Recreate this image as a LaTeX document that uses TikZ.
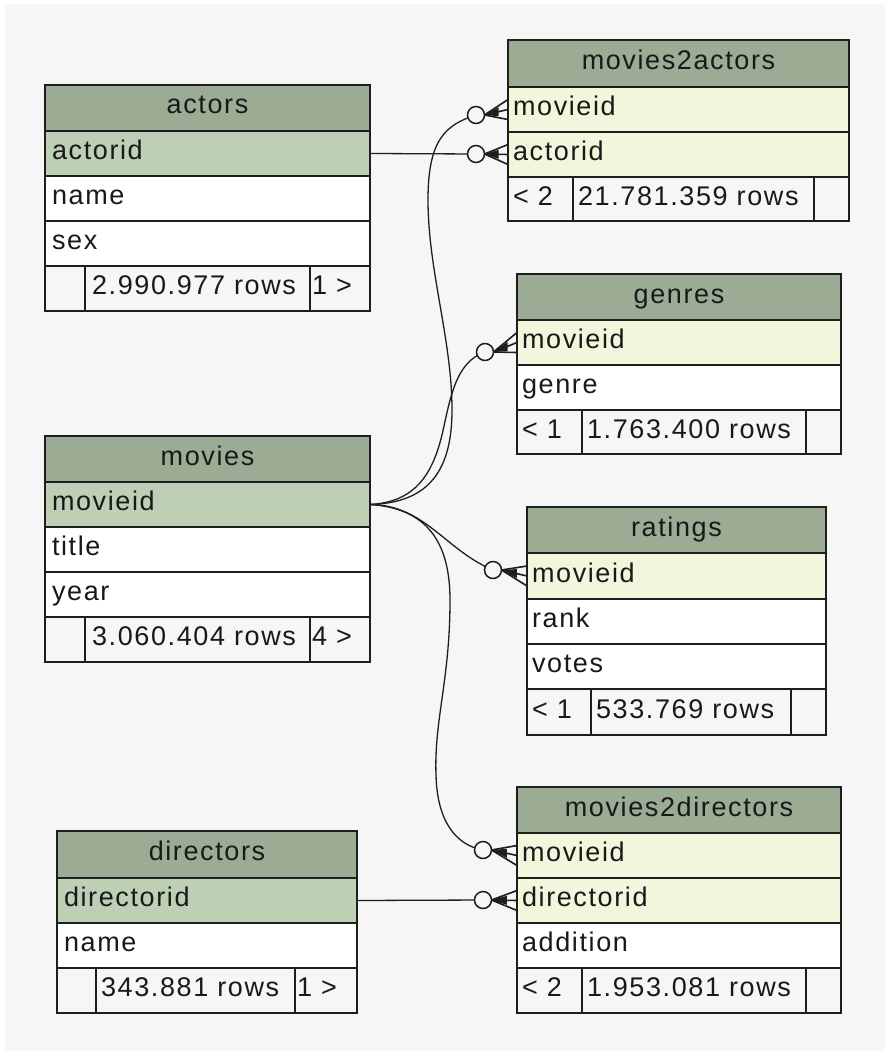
\documentclass[tikz,border=0pt]{standalone}
\usepackage{fontspec}
\setmainfont{Liberation Sans}
\newfontfamily\tabfont{Liberation Sans}[LetterSpace=6]
\usetikzlibrary{calc}
\definecolor{bgc}{HTML}{F6F6F6}
\definecolor{hdr}{HTML}{9BAB94}
\definecolor{pkc}{HTML}{BDCFB5}
\definecolor{fkc}{HTML}{F3F5DC}
\definecolor{bord}{HTML}{1E1E1E}
\tikzset{
  cellbase/.style={draw=bord, line width=1.6pt, inner ysep=0pt, outer sep=0pt,
    text height=17pt, text depth=5pt, font={\tabfont\fontsize{27}{30}\selectfont}, text=black!90},
  conn/.style={draw=bord, line width=1.3pt},
  prong/.style={draw=bord, line width=1.6pt},
  opt/.style={circle, draw=bord, line width=1.5pt, fill=bgc, minimum size=17pt, inner sep=0pt, outer sep=0pt}
}
\newcommand\mkcell[9]{%
  \pgfmathsetmacro\cellw{#4-#2}%
  \pgfmathsetmacro\cellh{#5-#3}%
  \pgfmathsetmacro\celltw{#4-#2-2*#9}%
  \node[cellbase, fill=#6, inner xsep=#9pt, minimum width=\cellw pt, minimum height=\cellh pt,
        text width=\celltw pt, align=#7] (#1) at ({(#2+#4)/2},{(#3+#5)/2}) {#8};}
\newcommand\crowfoot[2]{%
  \path (#1.east) coordinate (cv);
  \path (#2.west) coordinate (ce);
  \draw[prong] (cv) -- (ce) (cv) -- ($(ce)+(0,-10)$) (cv) -- ($(ce)+(0,10)$);
  \path ($(cv)!0.6!(ce)$) coordinate (cm);
  \fill[bord] (cv) -- ($(cm)+(0,-4.5)$) -- ($(cm)+(0,4.5)$) -- cycle;
}
\begin{document}
\begin{tikzpicture}[x=1pt,y=-1pt]
\useasboundingbox (0,0) rectangle (885,1051);
\fill[white] (0,0) rectangle (885,1051);
\fill[bgc] (5,4) rectangle (885,1051);

% actors
\mkcell{actors}{45}{85}{370}{131}{hdr}{center}{actors}{8}
\mkcell{actors-actorid}{45}{131}{370}{176}{pkc}{left}{actorid}{7}
\mkcell{actors-name}{45}{176}{370}{221}{white}{left}{name}{7}
\mkcell{actors-sex}{45}{221}{370}{266}{white}{left}{sex}{7}
\mkcell{actors-f1}{45}{266}{85}{311}{bgc}{left}{}{7}
\mkcell{actors-f2}{85}{266}{310}{311}{bgc}{left}{2.990.977 rows}{7}
\mkcell{actors-f3}{310}{266}{370}{311}{bgc}{left}{1 >}{2}

% movies
\mkcell{movies}{45}{436}{370}{482}{hdr}{center}{movies}{8}
\mkcell{movies-movieid}{45}{482}{370}{527}{pkc}{left}{movieid}{7}
\mkcell{movies-title}{45}{527}{370}{572}{white}{left}{title}{7}
\mkcell{movies-year}{45}{572}{370}{617}{white}{left}{year}{7}
\mkcell{movies-f1}{45}{617}{85}{662}{bgc}{left}{}{7}
\mkcell{movies-f2}{85}{617}{310}{662}{bgc}{left}{3.060.404 rows}{7}
\mkcell{movies-f3}{310}{617}{370}{662}{bgc}{left}{4 >}{2}

% directors
\mkcell{directors}{57}{831}{357}{878}{hdr}{center}{directors}{8}
\mkcell{directors-directorid}{57}{878}{357}{923}{pkc}{left}{directorid}{7}
\mkcell{directors-name}{57}{923}{357}{968}{white}{left}{name}{7}
\mkcell{directors-f1}{57}{968}{96}{1013}{bgc}{left}{}{7}
\mkcell{directors-f2}{96}{968}{295}{1013}{bgc}{left}{343.881 rows}{5}
\mkcell{directors-f3}{295}{968}{357}{1013}{bgc}{left}{1 >}{2}

% movies2actors
\mkcell{m2a}{508}{40}{849}{87}{hdr}{center}{movies2actors}{8}
\mkcell{m2a-movieid}{508}{87}{849}{132}{fkc}{left}{movieid}{5}
\mkcell{m2a-actorid}{508}{132}{849}{177}{fkc}{left}{actorid}{5}
\mkcell{m2a-f1}{508}{177}{573}{221}{bgc}{left}{< 2}{5}
\mkcell{m2a-f2}{573}{177}{814}{221}{bgc}{left}{21.781.359 rows}{5}
\mkcell{m2a-f3}{814}{177}{849}{221}{bgc}{left}{}{5}

% genres
\mkcell{genres}{517}{274}{841}{320}{hdr}{center}{genres}{8}
\mkcell{genres-movieid}{517}{320}{841}{365}{fkc}{left}{movieid}{5}
\mkcell{genres-genre}{517}{365}{841}{410}{white}{left}{genre}{5}
\mkcell{genres-f1}{517}{410}{582}{454}{bgc}{left}{< 1}{5}
\mkcell{genres-f2}{582}{410}{806}{454}{bgc}{left}{1.763.400 rows}{5}
\mkcell{genres-f3}{806}{410}{841}{454}{bgc}{left}{}{5}

% ratings
\mkcell{ratings}{527}{507}{826}{553}{hdr}{center}{ratings}{8}
\mkcell{ratings-movieid}{527}{553}{826}{599}{fkc}{left}{movieid}{5}
\mkcell{ratings-rank}{527}{599}{826}{644}{white}{left}{rank}{5}
\mkcell{ratings-votes}{527}{644}{826}{689}{white}{left}{votes}{5}
\mkcell{ratings-f1}{527}{689}{591}{735}{bgc}{left}{< 1}{5}
\mkcell{ratings-f2}{591}{689}{791}{735}{bgc}{left}{533.769 rows}{5}
\mkcell{ratings-f3}{791}{689}{826}{735}{bgc}{left}{}{5}

% movies2directors
\mkcell{m2d}{517}{787}{841}{833}{hdr}{center}{movies2directors}{8}
\mkcell{m2d-movieid}{517}{833}{841}{878}{fkc}{left}{movieid}{5}
\mkcell{m2d-directorid}{517}{878}{841}{923}{fkc}{left}{directorid}{5}
\mkcell{m2d-addition}{517}{923}{841}{968}{white}{left}{addition}{5}
\mkcell{m2d-f1}{517}{968}{582}{1013}{bgc}{left}{< 2}{5}
\mkcell{m2d-f2}{582}{968}{806}{1013}{bgc}{left}{1.953.081 rows}{5}
\mkcell{m2d-f3}{806}{968}{841}{1013}{bgc}{left}{}{5}

% optional-end circles (positions)
\coordinate (oA) at (476,115);
\coordinate (oB) at (476,154);
\coordinate (oC) at (485,352);
\coordinate (oD) at (493,570);
\coordinate (oE) at (483,850);
\coordinate (oF) at (483,900);

% connectors
\draw[conn] (actors-actorid.east) -- (oB);
\draw[conn] (directors-directorid.east) -- (oF);
\draw[conn] (movies-movieid.east) .. controls (425,503) and (452,475) .. (452,410)
  .. controls (452,340) and (428,270) .. (428,200)
  .. controls (428,140) and (445,125) .. (oA);
\draw[conn] (movies-movieid.east) .. controls (415,502) and (432,475) .. (442,435)
  .. controls (450,400) and (455,362) .. (oC);
\draw[conn] (movies-movieid.east) .. controls (425,505) and (445,550) .. (oD);
\draw[conn] (movies-movieid.east) .. controls (425,508) and (450,540) .. (450,600)
  .. controls (450,680) and (434,720) .. (436,775)
  .. controls (437,820) and (455,845) .. (oE);

% circles on top
\node[opt] (cA) at (oA) {};
\node[opt] (cB) at (oB) {};
\node[opt] (cC) at (oC) {};
\node[opt] (cD) at (oD) {};
\node[opt] (cE) at (oE) {};
\node[opt] (cF) at (oF) {};

% crow's feet
\crowfoot{cA}{m2a-movieid}
\crowfoot{cB}{m2a-actorid}
\crowfoot{cC}{genres-movieid}
\crowfoot{cD}{ratings-movieid}
\crowfoot{cE}{m2d-movieid}
\crowfoot{cF}{m2d-directorid}
\end{tikzpicture}
\end{document}
